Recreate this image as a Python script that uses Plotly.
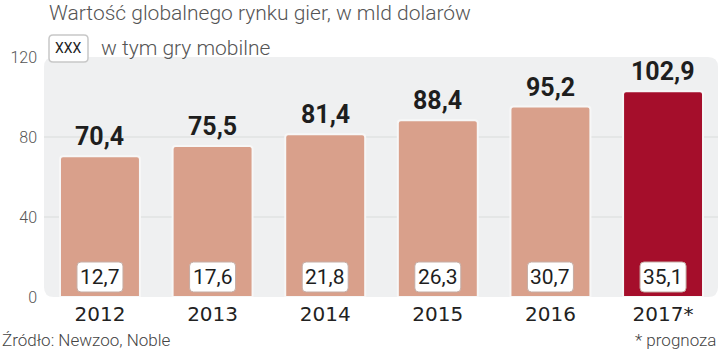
import plotly.graph_objects as go

years = ["2012", "2013", "2014", "2015", "2016", "2017*"]
total = [70.4, 75.5, 81.4, 88.4, 95.2, 102.9]
mobile = [12.7, 17.6, 21.8, 26.3, 30.7, 35.1]
y_ticks = [0, 40, 80, 120]

SALMON = "#D9A08B"
DARK = "#A50E2B"
colors = [SALMON] * 5 + [DARK]

W, H = 720, 352
ML, MR, MT, MB = 44, 2, 57, 55
PW, PH = W - ML - MR, H - MT - MB
FONT = "Roboto"

fmt = lambda v: f"{v:.1f}".replace(".", ",")

fig = go.Figure()
fig.add_trace(go.Bar(
    x=list(range(len(years))), y=total,
    marker=dict(color=colors, line=dict(color="#f7f7f7", width=2), cornerradius=3),
    width=0.71, hoverinfo="skip",
))


def rrect(w, h, r, cx=0, y0=0, rx=None, ry=None):
    rx = r if rx is None else rx
    ry = r if ry is None else ry
    x0, x1 = cx - w / 2, cx + w / 2
    y1 = y0 + h
    return (f"M{x0+rx},{y0} L{x1-rx},{y0} Q{x1},{y0} {x1},{y0+ry} L{x1},{y1-ry} "
            f"Q{x1},{y1} {x1-rx},{y1} L{x0+rx},{y1} Q{x0},{y1} {x0},{y1-ry} "
            f"L{x0},{y0+ry} Q{x0},{y0} {x0+rx},{y0} Z")


shapes = []
# background panel (paper coords, rounded corners)
shapes.append(dict(
    type="path", xref="paper", yref="paper", layer="below",
    path=rrect(1, 1, 0, 0.5, 0, rx=10 / PW, ry=10 / PH),
    fillcolor="#EFF0F1", line=dict(width=0),
))
for yv in [40, 80]:
    shapes.append(dict(type="line", xref="paper", yref="y", x0=0, x1=1, y0=yv, y1=yv,
                       line=dict(color="#DADBDC", width=1.2), layer="below"))

annotations = []
for i, (t, m) in enumerate(zip(total, mobile)):
    annotations.append(dict(x=i, y=t, xref="x", yref="y", text=f"<b>{fmt(t)}</b>",
                            showarrow=False, yanchor="bottom", yshift=3,
                            font=dict(family=FONT, size=25, color="#1e1e1e")))
    shapes.append(dict(type="path", xref="x", yref="y", xsizemode="pixel", ysizemode="pixel",
                       xanchor=i, yanchor=0, path=rrect(46, 30, 4, 0, 5),
                       fillcolor="white", line=dict(color="#c4aca4", width=1)))
    annotations.append(dict(x=i, y=0, xref="x", yref="y", text=fmt(m), showarrow=False,
                            yanchor="middle", yshift=20,
                            font=dict(family=FONT, size=21, color="#1e1e1e")))

# title & legend
annotations.append(dict(xref="paper", yref="paper", x=(47 - ML) / PW, y=1 + (MT - 13) / PH,
                        text="Wartość globalnego rynku gier, w mld dolarów", showarrow=False,
                        xanchor="left", yanchor="middle",
                        font=dict(family=FONT, size=21, weight=300, color="#555555")))
annotations.append(dict(xref="paper", yref="paper", x=(99 - ML) / PW, y=1 + (MT - 48) / PH,
                        text="w tym gry mobilne", showarrow=False, xanchor="left", yanchor="middle",
                        font=dict(family=FONT, size=21, weight=300, color="#555555")))
annotations.append(dict(xref="paper", yref="paper", x=(68.5 - ML) / PW, y=1 + (MT - 48) / PH,
                        text="XXX", showarrow=False, xanchor="center", yanchor="middle",
                        font=dict(family=FONT, size=14, color="#222222")))
shapes.append(dict(type="path", xref="paper", yref="paper",
                   path=rrect(39 / PW, 27 / PH, 0, (68.5 - ML) / PW, 1 + (MT - 62) / PH,
                              rx=4 / PW, ry=4 / PH),
                   fillcolor="white", line=dict(color="#c8c8c8", width=1.5)))
# footer
annotations.append(dict(xref="paper", yref="paper", x=-ML / PW, y=-(340 - MT - PH) / PH,
                        text="Źródło: Newzoo, Noble", showarrow=False, xanchor="left", yanchor="middle",
                        font=dict(family=FONT, size=17, weight=300, color="#444444")))
annotations.append(dict(xref="paper", yref="paper", x=1 + (MR - 2) / PW, y=-(340 - MT - PH) / PH,
                        text="* prognoza", showarrow=False, xanchor="right", yanchor="middle",
                        font=dict(family=FONT, size=17, weight=300, color="#444444")))

fig.update_layout(
    width=W, height=H, margin=dict(l=ML, r=MR, t=MT, b=MB),
    paper_bgcolor="white", plot_bgcolor="rgba(0,0,0,0)",
    showlegend=False, shapes=shapes, annotations=annotations,
    xaxis=dict(range=[-0.497, 5.488], tickmode="array", tickvals=list(range(len(years))),
               ticktext=years, showgrid=False, zeroline=False, showline=False,
               ticks="", ticklabelstandoff=3,
               tickfont=dict(family="DejaVu Sans", size=20, color="#222222")),
    yaxis=dict(range=[0, 120], tickmode="array", tickvals=y_ticks, showgrid=False,
               zeroline=False, showline=False, ticks="", ticklabelstandoff=6,
               tickfont=dict(family=FONT, size=16, weight=300, color="#555555")),
)
fig.write_html("out.html")
